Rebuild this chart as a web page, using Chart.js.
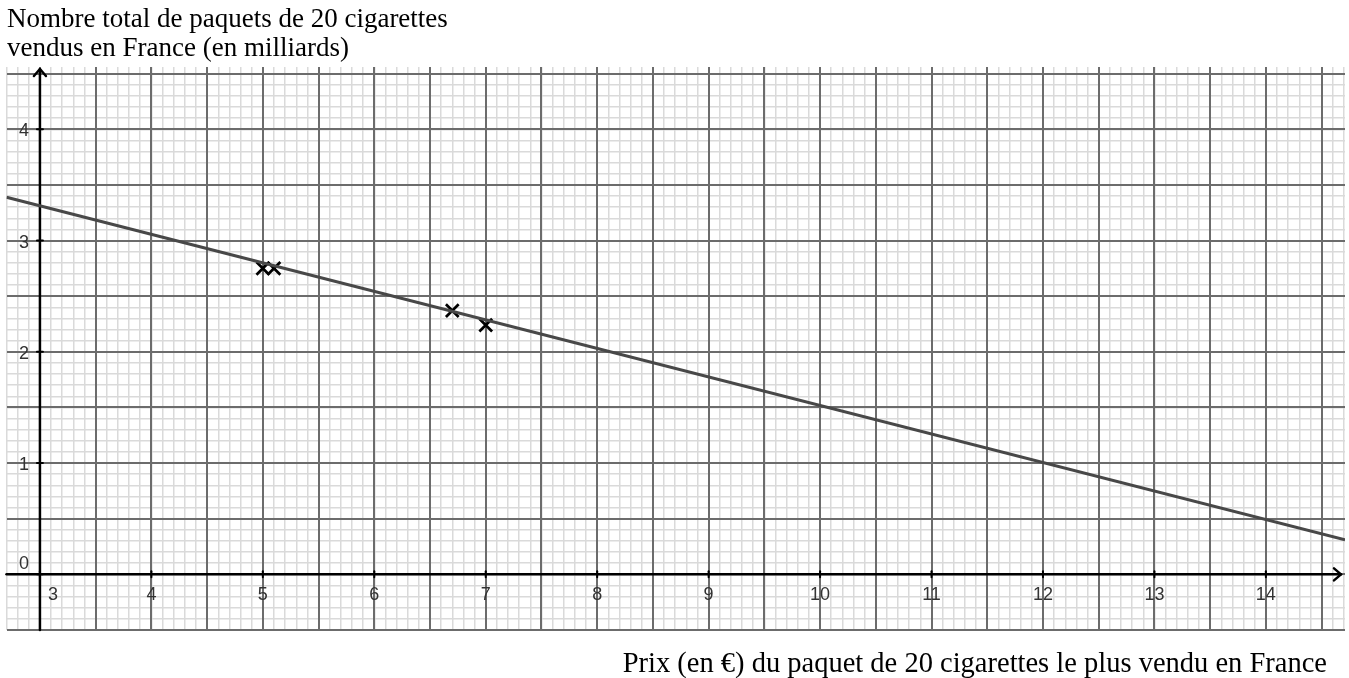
<!DOCTYPE html>
<html><head><meta charset="utf-8">
<script src="https://cdn.jsdelivr.net/npm/chart.js@4.4.1/dist/chart.umd.min.js"></script>
<style>html,body{margin:0;padding:0;background:#fff;overflow:hidden}#wrap{position:relative;width:1349px;height:678px}</style>
</head><body><div id="wrap"><canvas id="c" width="1349" height="678"></canvas></div>
<script>
// Observed data points (price in €, packs sold in billions)
const priceX = [5, 5.1, 6.7, 7];
const packsY = [2.75, 2.75, 2.37, 2.24];
// Trend line end points
const trendX = [2.7, 14.71];
const trendY = [3.39, 0.31];
// Tick labels
const xTickLabels = [3, 4, 5, 6, 7, 8, 9, 10, 11, 12, 13, 14];
const yTickLabels = [0, 1, 2, 3, 4];
// Axis titles
const yTitleLines = ["Nombre total de paquets de 20 cigarettes", "vendus en France (en milliards)"];
const xTitle = "Prix (en €) du paquet de 20 cigarettes le plus vendu en France";

const X_MIN = 2.7, X_MAX = 14.71, Y_MIN = -0.5, Y_MAX = 4.56;
const AXIS_X0 = 3, AXIS_Y0 = 0;

const geoPlugin = {
  id: 'geo',
  beforeDatasetsDraw(chart) {
    const {ctx, chartArea: a, scales: {x, y}} = chart;
    const ox = x.getPixelForValue(AXIS_X0), oy = y.getPixelForValue(AXIS_Y0);
    ctx.save();
    ctx.strokeStyle = '#000';
    ctx.lineWidth = 2.5;
    ctx.lineCap = 'round';
    ctx.lineJoin = 'round';
    // x axis
    const xTip = a.right - 4;
    ctx.beginPath(); ctx.moveTo(a.left, oy); ctx.lineTo(xTip, oy); ctx.stroke();
    ctx.beginPath(); ctx.moveTo(xTip - 7, oy - 6); ctx.lineTo(xTip, oy); ctx.lineTo(xTip - 7, oy + 6); ctx.stroke();
    // y axis
    const yTip = a.top + 2;
    ctx.beginPath(); ctx.moveTo(ox, a.bottom); ctx.lineTo(ox, yTip); ctx.stroke();
    ctx.beginPath(); ctx.moveTo(ox - 6, yTip + 7); ctx.lineTo(ox, yTip); ctx.lineTo(ox + 6, yTip + 7); ctx.stroke();
    // tick marks
    ctx.lineWidth = 2;
    xTickLabels.forEach(v => {
      const px = x.getPixelForValue(v);
      ctx.beginPath(); ctx.moveTo(px, oy - 3); ctx.lineTo(px, oy + 3); ctx.stroke();
    });
    yTickLabels.forEach(v => {
      const py = y.getPixelForValue(v);
      ctx.beginPath(); ctx.moveTo(ox - 3, py); ctx.lineTo(ox + 3, py); ctx.stroke();
    });
    ctx.restore();
  },
  afterDraw(chart) {
    const {ctx, scales: {x, y}} = chart;
    const ox = x.getPixelForValue(AXIS_X0), oy = y.getPixelForValue(AXIS_Y0);
    ctx.save();
    ctx.fillStyle = '#333';
    ctx.font = '18px "Liberation Sans", Arial, sans-serif';
    ctx.textBaseline = 'middle';
    xTickLabels.forEach(v => {
      let px = x.getPixelForValue(v);
      if (v === AXIS_X0) { ctx.textAlign = 'left'; px = ox + 8; } else { ctx.textAlign = 'center'; }
      ctx.fillText(String(v), px, oy + 21);
    });
    ctx.textAlign = 'right';
    yTickLabels.forEach(v => {
      let py = y.getPixelForValue(v) + 2;
      if (v === AXIS_Y0) py = oy - 10;
      ctx.fillText(String(v), ox - 11, py);
    });
    // titles
    ctx.fillStyle = '#000';
    ctx.font = '27px "Liberation Serif", "Times New Roman", serif';
    ctx.textBaseline = 'alphabetic';
    ctx.textAlign = 'left';
    ctx.fillText(yTitleLines[0], 7, 27);
    ctx.fillText(yTitleLines[1], 7, 56);
    ctx.font = '28.5px "Liberation Serif", "Times New Roman", serif';
    ctx.textAlign = 'right';
    ctx.fillText(xTitle, 1327, 672);
    ctx.restore();
  }
};

const hidden = {display: false};
const minorGrid = {drawTicks: false, color: '#dadada', lineWidth: 1.5, z: -2};
const majorGrid = {drawTicks: false, color: '#6c6c6c', lineWidth: 2, z: -1};
const zeroFit = s => {
  if (s.isHorizontal()) s.height = 0; else s.width = 0;
  s.paddingLeft = s.paddingRight = s.paddingTop = s.paddingBottom = 0;
};
const mkScale = (axis, min, max, step, grid) => ({
  type: 'linear', axis, min, max,
  border: {display: false},
  ticks: {display: false, stepSize: step, includeBounds: false, autoSkip: false, padding: 0},
  grid,
  afterFit: zeroFit
});

new Chart(document.getElementById('c'), {
  type: 'scatter',
  data: {
    datasets: [
      {
        type: 'line',
        data: trendX.map((v, i) => ({x: v, y: trendY[i]})),
        borderColor: '#484848',
        borderWidth: 3,
        pointRadius: 0,
        fill: false,
        tension: 0
      },
      {
        data: priceX.map((v, i) => ({x: v, y: packsY[i]})),
        pointStyle: 'crossRot',
        pointRadius: 9,
        borderColor: '#000',
        backgroundColor: '#000',
        borderWidth: 2.7
      }
    ]
  },
  options: {
    responsive: false,
    devicePixelRatio: 1,
    animation: false,
    events: [],
    layout: {autoPadding: false, padding: {left: 6.5, right: 4, top: 67, bottom: 48}},
    plugins: {legend: hidden, title: hidden, tooltip: {enabled: false}},
    scales: {
      x: mkScale('x', X_MIN, X_MAX, 0.1, minorGrid),
      y: mkScale('y', Y_MIN, Y_MAX, 0.1, minorGrid),
      xMajor: mkScale('x', X_MIN, X_MAX, 0.5, majorGrid),
      yMajor: mkScale('y', Y_MIN, Y_MAX, 0.5, majorGrid)
    }
  },
  plugins: [geoPlugin]
});
</script></body></html>
